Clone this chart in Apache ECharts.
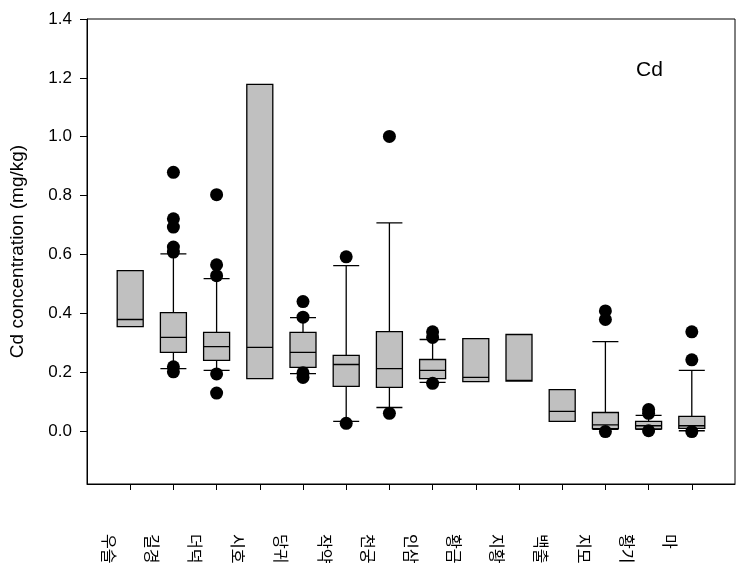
<!DOCTYPE html>
<html>
<head>
<meta charset="utf-8">
<script src="https://cdn.jsdelivr.net/npm/echarts@6/dist/echarts.min.js"></script>
<style>html,body{margin:0;padding:0;background:#fff}#c{width:746px;height:579px}</style>
</head>
<body>
<div id="c"></div>
<script>
// Categories (Korean herb names)
var categories = ['우슬','길경','더덕','시호','당귀','작약','천궁','인삼','황금','지황','백출','지모','황기','마'];
// Box stats: [min, Q1, median, Q3, max]
var boxStats = [
  [0.355, 0.355, 0.379, 0.545, 0.545],
  [0.212, 0.267, 0.318, 0.402, 0.602],
  [0.206, 0.240, 0.287, 0.335, 0.518],
  [0.178, 0.178, 0.284, 1.178, 1.178],
  [0.195, 0.216, 0.267, 0.335, 0.385],
  [0.033, 0.152, 0.226, 0.257, 0.562],
  [0.080, 0.148, 0.212, 0.338, 0.707],
  [0.165, 0.178, 0.206, 0.243, 0.311],
  [0.168, 0.168, 0.182, 0.314, 0.314],
  [0.170, 0.170, 0.172, 0.328, 0.328],
  [0.033, 0.033, 0.067, 0.141, 0.141],
  [0.006, 0.008, 0.021, 0.063, 0.304],
  [0.006, 0.007, 0.018, 0.033, 0.053],
  [0.001, 0.009, 0.018, 0.050, 0.206]
];
// Outliers per category
var outliers = [
  [],
  [0.879, 0.721, 0.693, 0.625, 0.608, 0.218, 0.201],
  [0.803, 0.565, 0.528, 0.194, 0.129],
  [],
  [0.440, 0.387, 0.198, 0.182],
  [0.592, 0.026],
  [1.001, 0.060],
  [0.337, 0.318, 0.162],
  [],
  [],
  [],
  [0.408, 0.379, -0.002],
  [0.073, 0.060, 0.001],
  [0.337, 0.242, -0.002]
];
var yTicks = [0.0, 0.2, 0.4, 0.6, 0.8, 1.0, 1.2, 1.4];
var yMin = -0.18, yMax = 1.4;
var yTitle = 'Cd concentration (mg/kg)';
var panelLabel = 'Cd';

var axisCats = ['<s>'].concat(categories).concat(['<e>']);
var labelCats = categories.concat(['']);
var boxData = categories.map(function(c, i){ return [c].concat(boxStats[i]); });
var outData = [];
categories.forEach(function(c, i){ outliers[i].forEach(function(v){ outData.push([c, v]); }); });

var chart = echarts.init(document.getElementById('c'), null, {renderer:'canvas'});
chart.setOption({
  animation: false,
  backgroundColor: '#fff',
  textStyle: {fontFamily: 'Liberation Sans, Arial, sans-serif'},
  title: {text: panelLabel, left: 631, top: 55, textStyle: {fontSize: 21, fontWeight: 'normal', color: '#000', fontFamily: 'Liberation Sans'}},
  grid: {left: 87, right: 11, top: 19, bottom: 95, show: true, borderColor: '#000', borderWidth: 1, backgroundColor: 'transparent'},
  xAxis: [{
    type: 'category', data: axisCats, boundaryGap: false, position: 'bottom',
    axisLine: {onZero: false, lineStyle: {color: '#000', width: 1}},
    axisTick: {show: true, length: 6, lineStyle: {color: '#000'}, interval: function(i){ return i > 0 && i < axisCats.length - 1; }},
    axisLabel: {show: false}, splitLine: {show: false}
  }, {
    type: 'category', data: labelCats, boundaryGap: true, position: 'bottom', gridIndex: 0,
    axisLine: {show: false, onZero: false}, axisTick: {show: false}, splitLine: {show: false},
    axisLabel: {show: true, interval: 0, rotate: -90, margin: 50, fontSize: 16, color: '#000', fontFamily: 'Noto Sans CJK KR'}
  }],
  yAxis: {
    type: 'value', min: yMin, max: yMax,
    name: yTitle, nameLocation: 'middle', nameGap: 60, nameRotate: 90,
    nameTextStyle: {fontSize: 19, color: '#000', fontFamily: 'Liberation Sans'},
    axisLine: {show: true, lineStyle: {color: '#000'}},
    axisTick: {show: true, length: 7, lineStyle: {color: '#000'}, customValues: yTicks},
    axisLabel: {customValues: yTicks, fontSize: 17, color: '#000', margin: 15, formatter: function(v){ return v.toFixed(1); }},
    splitLine: {show: false}
  },
  series: [{
    type: 'boxplot', xAxisIndex: 0, data: boxData,
    encode: {x: 0, y: [1,2,3,4,5]},
    boxWidth: [26, 26],
    itemStyle: {color: '#c0c0c0', borderColor: '#000', borderWidth: 1.3}
  }, {
    type: 'scatter', xAxisIndex: 0, data: outData, symbol: 'circle', symbolSize: 13,
    itemStyle: {color: '#000', opacity: 1}, z: 5
  }]
});
</script>
</body>
</html>
